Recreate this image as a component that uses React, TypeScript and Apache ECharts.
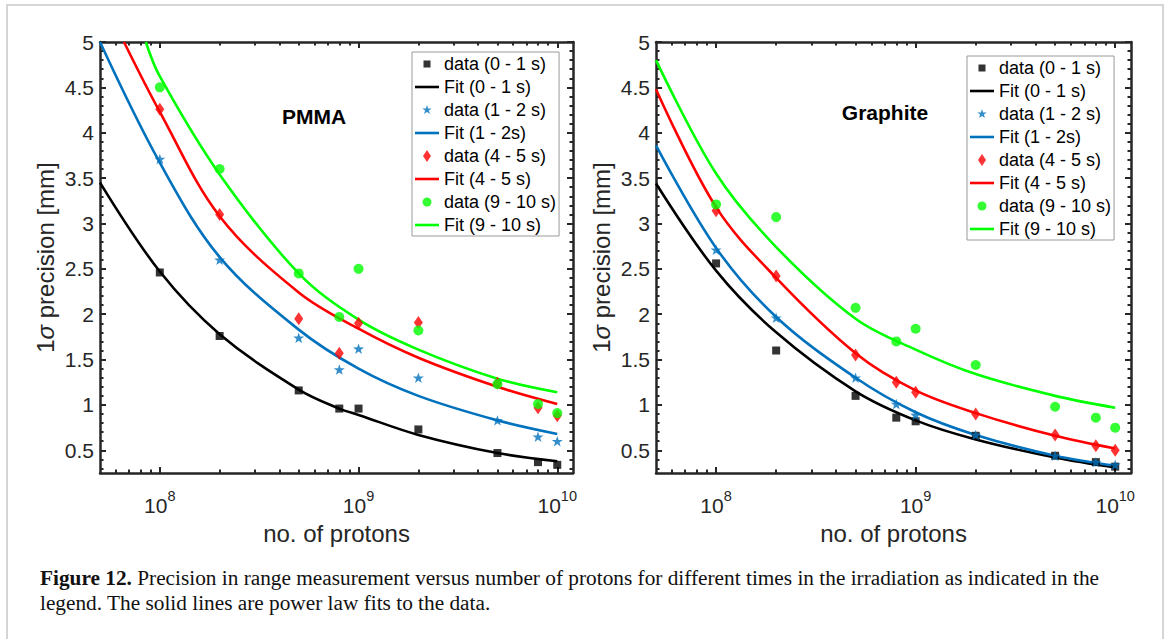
import React, { useEffect, useRef } from 'react';
import * as echarts from 'echarts';

// ---------- data ----------
const protons = [1e8, 2e8, 5e8, 8e8, 1e9, 2e9, 5e9, 8e9, 1e10];

// PMMA measured precision [mm]
const pmmaData01 = [2.46, 1.76, 1.16, 0.96, 0.96, 0.73, 0.47, 0.37, 0.34];
const pmmaData12 = [3.71, 2.6, 1.74, 1.39, 1.62, 1.3, 0.83, 0.65, 0.6];
const pmmaData45 = [4.26, 3.1, 1.95, 1.57, 1.9, 1.91, 1.24, 0.97, 0.88];
const pmmaData910 = [4.5, 3.6, 2.45, 1.97, 2.5, 1.82, 1.23, 1.01, 0.91];

// PMMA fit curves
const pmmaFit01X = [5e7, 1e8, 2e8, 5e8, 8e8, 1e9, 2e9, 5e9, 1e10];
const pmmaFit01Y = [3.45, 2.47, 1.78, 1.17, 0.96, 0.89, 0.67, 0.47, 0.38];
const pmmaFit12X = [5e7, 1e8, 2e8, 5e8, 1e9, 2e9, 5e9, 1e10];
const pmmaFit12Y = [5.0, 3.67, 2.63, 1.83, 1.4, 1.1, 0.83, 0.68];
const pmmaFit45X = [6.6e7, 1e8, 2e8, 5e8, 1e9, 2e9, 5e9, 1e10];
const pmmaFit45Y = [5.0, 4.23, 3.08, 2.24, 1.84, 1.52, 1.2, 1.01];
const pmmaFit910X = [8.5e7, 1e8, 2e8, 5e8, 1e9, 2e9, 5e9, 1e10];
const pmmaFit910Y = [5.0, 4.62, 3.54, 2.45, 1.94, 1.61, 1.29, 1.14];

// Graphite measured precision [mm]
const grData01 = [2.56, 1.6, 1.1, 0.86, 0.82, 0.66, 0.44, 0.37, 0.32];
const grData12 = [2.71, 1.96, 1.3, 1.01, 0.89, 0.67, 0.44, 0.37, 0.34];
const grData45 = [3.14, 2.42, 1.55, 1.25, 1.14, 0.9, 0.67, 0.55, 0.5];
const grData910 = [3.21, 3.07, 2.07, 1.7, 1.84, 1.44, 0.98, 0.86, 0.75];

// Graphite fit curves
const grFitX = [5e7, 1e8, 2e8, 5e8, 1e9, 2e9, 5e9, 1e10];
const grFit01Y = [3.44, 2.48, 1.8, 1.15, 0.83, 0.62, 0.42, 0.31];
const grFit12Y = [3.86, 2.73, 1.97, 1.3, 0.92, 0.67, 0.44, 0.33];
const grFit45Y = [4.48, 3.18, 2.4, 1.57, 1.16, 0.91, 0.66, 0.52];
const grFit910Y = [4.8, 3.55, 2.74, 1.95, 1.61, 1.34, 1.1, 0.97];

const seriesNames = [
  'data (0 - 1 s)', 'Fit (0 - 1 s)',
  'data (1 - 2 s)', 'Fit (1 - 2s)',
  'data (4 - 5 s)', 'Fit (4 - 5 s)',
  'data (9 - 10 s)', 'Fit (9 - 10 s)',
];
const panelTitles = ['PMMA', 'Graphite'];
const xMajorTicks = [1e8, 1e9, 1e10];
const xMinorTicks = [6e7, 7e7, 8e7, 9e7, 2e8, 3e8, 4e8, 5e8, 6e8, 7e8, 8e8, 9e8, 2e9, 3e9, 4e9, 5e9, 6e9, 7e9, 8e9, 9e9];
const yMajorTicks = [0.5, 1, 1.5, 2, 2.5, 3, 3.5, 4, 4.5, 5];
const yMinorTicks = [0.3, 0.4, 0.6, 0.7, 0.8, 0.9, 1.1, 1.2, 1.3, 1.4, 1.6, 1.7, 1.8, 1.9, 2.1, 2.2, 2.3, 2.4, 2.6, 2.7, 2.8, 2.9, 3.1, 3.2, 3.3, 3.4, 3.6, 3.7, 3.8, 3.9, 4.1, 4.2, 4.3, 4.4, 4.6, 4.7, 4.8, 4.9];

// ---------- styles ----------
const FONT = "'Liberation Sans', Arial, Helvetica, sans-serif";
const SERIF = "'Liberation Serif', 'Times New Roman', serif";
const AX = '#262626';
const COLORS = ['#000000', '#0072BD', '#FF0000', '#00FF00'];
const STAR = 'path://M0,-10L2.35,-3.24L9.51,-3.09L3.8,1.24L5.88,8.09L0,4L-5.88,8.09L-3.8,1.24L-9.51,-3.09L-2.35,-3.24Z';
const SYMBOLS: any[] = ['rect', STAR, 'diamond', 'circle'];
const SYMBOL_SIZES: any[] = [8, 11, [9, 13], 10];

// legend icons (padded paths so that keepAspect gives the right marker size)
const LEGEND_ICONS = [
  'path://M0,0M2.5,2.5H9.5V9.5H2.5ZM12,12',
  'path://M-12,-12M0,-10L2.35,-3.24L9.51,-3.09L3.8,1.24L5.88,8.09L0,4L-5.88,8.09L-3.8,1.24L-9.51,-3.09L-2.35,-3.24ZM12,12',
  'path://M0,0M6,0L10,6L6,12L2,6ZM12,12',
  'path://M0,0M1.5,6A4.5,4.5,0,1,1,10.5,6A4.5,4.5,0,1,1,1.5,6ZM12,12',
];
const LEGEND_LINE = 'path://M0,0H24V2.6H0Z';

const gridsLayout = [
  { left: 100, top: 42, width: 473, height: 431 },
  { left: 656, top: 42, width: 475, height: 431 },
];

function zip(xs: number[], ys: number[]) {
  return xs.map((x, i) => [x, ys[i]]);
}

function makeXAxes(gridIndex: number) {
  const base: any = {
    type: 'log', logBase: 10, min: 5e7, max: 1.2e10, gridIndex,
    splitLine: { show: false }, minorTick: { show: false }, minorSplitLine: { show: false },
    axisPointer: { show: false },
  };
  const line = { show: true, onZero: false, lineStyle: { color: AX, width: 2.5 } };
  return [
    {
      ...base, position: 'bottom', axisLine: line,
      axisTick: { show: true, inside: true, length: 6, customValues: xMajorTicks, lineStyle: { color: AX, width: 2 } },
      axisLabel: {
        show: true, customValues: xMajorTicks, margin: 15,
        formatter: (v: number) => `{b|10}{e|${Math.round(Math.log10(v))}}`,
        rich: {
          b: { fontSize: 21, fontFamily: FONT, color: AX, lineHeight: 28, verticalAlign: 'bottom' },
          e: { fontSize: 14.5, fontFamily: FONT, color: AX, lineHeight: 14, verticalAlign: 'top' },
        },
      },
      name: 'no. of protons', nameLocation: 'middle', nameGap: 48,
      nameTextStyle: { fontSize: 24, fontFamily: FONT, color: AX },
    },
    {
      ...base, position: 'bottom', axisLine: { show: false },
      axisTick: { show: true, inside: true, length: 3.5, customValues: xMinorTicks, lineStyle: { color: AX, width: 2 } },
      axisLabel: { show: false },
    },
    {
      ...base, position: 'top', axisLine: line,
      axisTick: { show: true, inside: true, length: 6, customValues: xMajorTicks, lineStyle: { color: AX, width: 2 } },
      axisLabel: { show: false },
    },
    {
      ...base, position: 'top', axisLine: { show: false },
      axisTick: { show: true, inside: true, length: 3.5, customValues: xMinorTicks, lineStyle: { color: AX, width: 2 } },
      axisLabel: { show: false },
    },
  ];
}

function makeYAxes(gridIndex: number) {
  const base: any = {
    type: 'value', min: 0.25, max: 5, gridIndex,
    splitLine: { show: false }, minorTick: { show: false }, minorSplitLine: { show: false },
    axisPointer: { show: false },
  };
  const line = { show: true, onZero: false, lineStyle: { color: AX, width: 2.5 } };
  return [
    {
      ...base, position: 'left', axisLine: line,
      axisTick: { show: true, inside: true, length: 6, customValues: yMajorTicks, lineStyle: { color: AX, width: 2 } },
      axisLabel: { show: true, customValues: yMajorTicks, margin: 6, fontSize: 21, fontFamily: FONT, color: AX },
      name: '1{s|σ} precision [mm]', nameLocation: 'middle', nameGap: 43,
      nameTextStyle: {
        fontSize: 24, fontFamily: FONT, color: AX,
        rich: { s: { fontSize: 24, fontFamily: FONT, fontStyle: 'italic', color: AX } },
      },
    },
    {
      ...base, position: 'left', axisLine: { show: false },
      axisTick: { show: true, inside: true, length: 3.5, customValues: yMinorTicks, lineStyle: { color: AX, width: 2 } },
      axisLabel: { show: false },
    },
    {
      ...base, position: 'right', axisLine: line,
      axisTick: { show: true, inside: true, length: 6, customValues: yMajorTicks, lineStyle: { color: AX, width: 2 } },
      axisLabel: { show: false },
    },
    {
      ...base, position: 'right', axisLine: { show: false },
      axisTick: { show: true, inside: true, length: 3.5, customValues: yMinorTicks, lineStyle: { color: AX, width: 2 } },
      axisLabel: { show: false },
    },
  ];
}

function makeSeries(gridIndex: number, dataSets: number[][], fits: [number[], number[]][]) {
  const out: any[] = [];
  for (let k = 0; k < 4; k++) {
    out.push({
      name: seriesNames[2 * k], type: 'scatter',
      xAxisIndex: gridIndex * 4, yAxisIndex: gridIndex * 4,
      symbol: SYMBOLS[k], symbolSize: SYMBOL_SIZES[k], symbolKeepAspect: true,
      itemStyle: { color: COLORS[k] }, z: 3, silent: true,
      data: zip(protons, dataSets[k]),
    });
    out.push({
      name: seriesNames[2 * k + 1], type: 'line',
      xAxisIndex: gridIndex * 4, yAxisIndex: gridIndex * 4,
      symbol: 'none', smooth: 0.35, silent: true,
      itemStyle: { color: COLORS[k] },
      lineStyle: { color: COLORS[k], width: 2.6 },
      data: zip(fits[k][0], fits[k][1]),
      z: 2,
    });
  }
  return out;
}

function makeLegend(left: number, top: number) {
  return {
    orient: 'vertical', left, top,
    itemWidth: 24, itemHeight: 12, itemGap: 5,
    symbolKeepAspect: true,
    backgroundColor: '#ffffff', borderColor: '#9a9a9a', borderWidth: 1, borderRadius: 0,
    padding: [3, 3, 2, 3], selectedMode: false,
    textStyle: { fontSize: 18, fontFamily: FONT, color: '#000', lineHeight: 18 },
    data: seriesNames.map((name, i) => ({
      name,
      icon: i % 2 === 0 ? LEGEND_ICONS[i / 2] : LEGEND_LINE,
      itemStyle: { color: COLORS[Math.floor(i / 2)], borderWidth: 0 },
    })),
  };
}

export default function App() {
  const ref = useRef<HTMLDivElement>(null);
  useEffect(() => {
    if (!ref.current) return;
    const chart = echarts.init(ref.current, undefined, { renderer: 'svg' });
    const option: any = {
      animation: false,
      backgroundColor: '#ffffff',
      grid: gridsLayout.map((g) => ({ ...g, containLabel: false })),
      xAxis: [...makeXAxes(0), ...makeXAxes(1)],
      yAxis: [...makeYAxes(0), ...makeYAxes(1)],
      legend: [makeLegend(412, 52), makeLegend(967, 56)],
      series: [
        ...makeSeries(0, [pmmaData01, pmmaData12, pmmaData45, pmmaData910], [
          [pmmaFit01X, pmmaFit01Y], [pmmaFit12X, pmmaFit12Y], [pmmaFit45X, pmmaFit45Y], [pmmaFit910X, pmmaFit910Y],
        ]),
        ...makeSeries(1, [grData01, grData12, grData45, grData910], [
          [grFitX, grFit01Y], [grFitX, grFit12Y], [grFitX, grFit45Y], [grFitX, grFit910Y],
        ]),
      ],
      graphic: [
        {
          type: 'rect', silent: true, z: -10,
          shape: { x: 7, y: 5, width: 1156, height: 700 },
          style: { fill: 'none', stroke: '#c8c8c8', lineWidth: 1.5 },
        },
        {
          type: 'text', x: 314, y: 116, silent: true,
          style: { text: panelTitles[0], fontSize: 21, fontWeight: 'bold', fontFamily: FONT, fill: '#000', align: 'center', verticalAlign: 'middle' },
        },
        {
          type: 'text', x: 885, y: 112, silent: true,
          style: { text: panelTitles[1], fontSize: 21, fontWeight: 'bold', fontFamily: FONT, fill: '#000', align: 'center', verticalAlign: 'middle' },
        },
        {
          type: 'text', x: 40, y: 578, silent: true,
          style: {
            text: '{b|Figure 12.} Precision in range measurement versus number of protons for different times in the irradiation as indicated in the',
            fontSize: 21.3, fontFamily: SERIF, fill: '#111', align: 'left', verticalAlign: 'middle',
            rich: { b: { fontWeight: 'bold', fontSize: 21.3, fontFamily: SERIF, fill: '#111' } },
          },
        },
        {
          type: 'text', x: 40, y: 603, silent: true,
          style: {
            text: 'legend. The solid lines are power law fits to the data.',
            fontSize: 21.3, fontFamily: SERIF, fill: '#111', align: 'left', verticalAlign: 'middle',
          },
        },
      ],
    };
    chart.setOption(option);
    return () => chart.dispose();
  }, []);
  return (
    <div
      ref={ref}
      style={{ position: 'fixed', left: 0, top: 0, width: 1170, height: 639, background: '#fff' }}
    />
  );
}
